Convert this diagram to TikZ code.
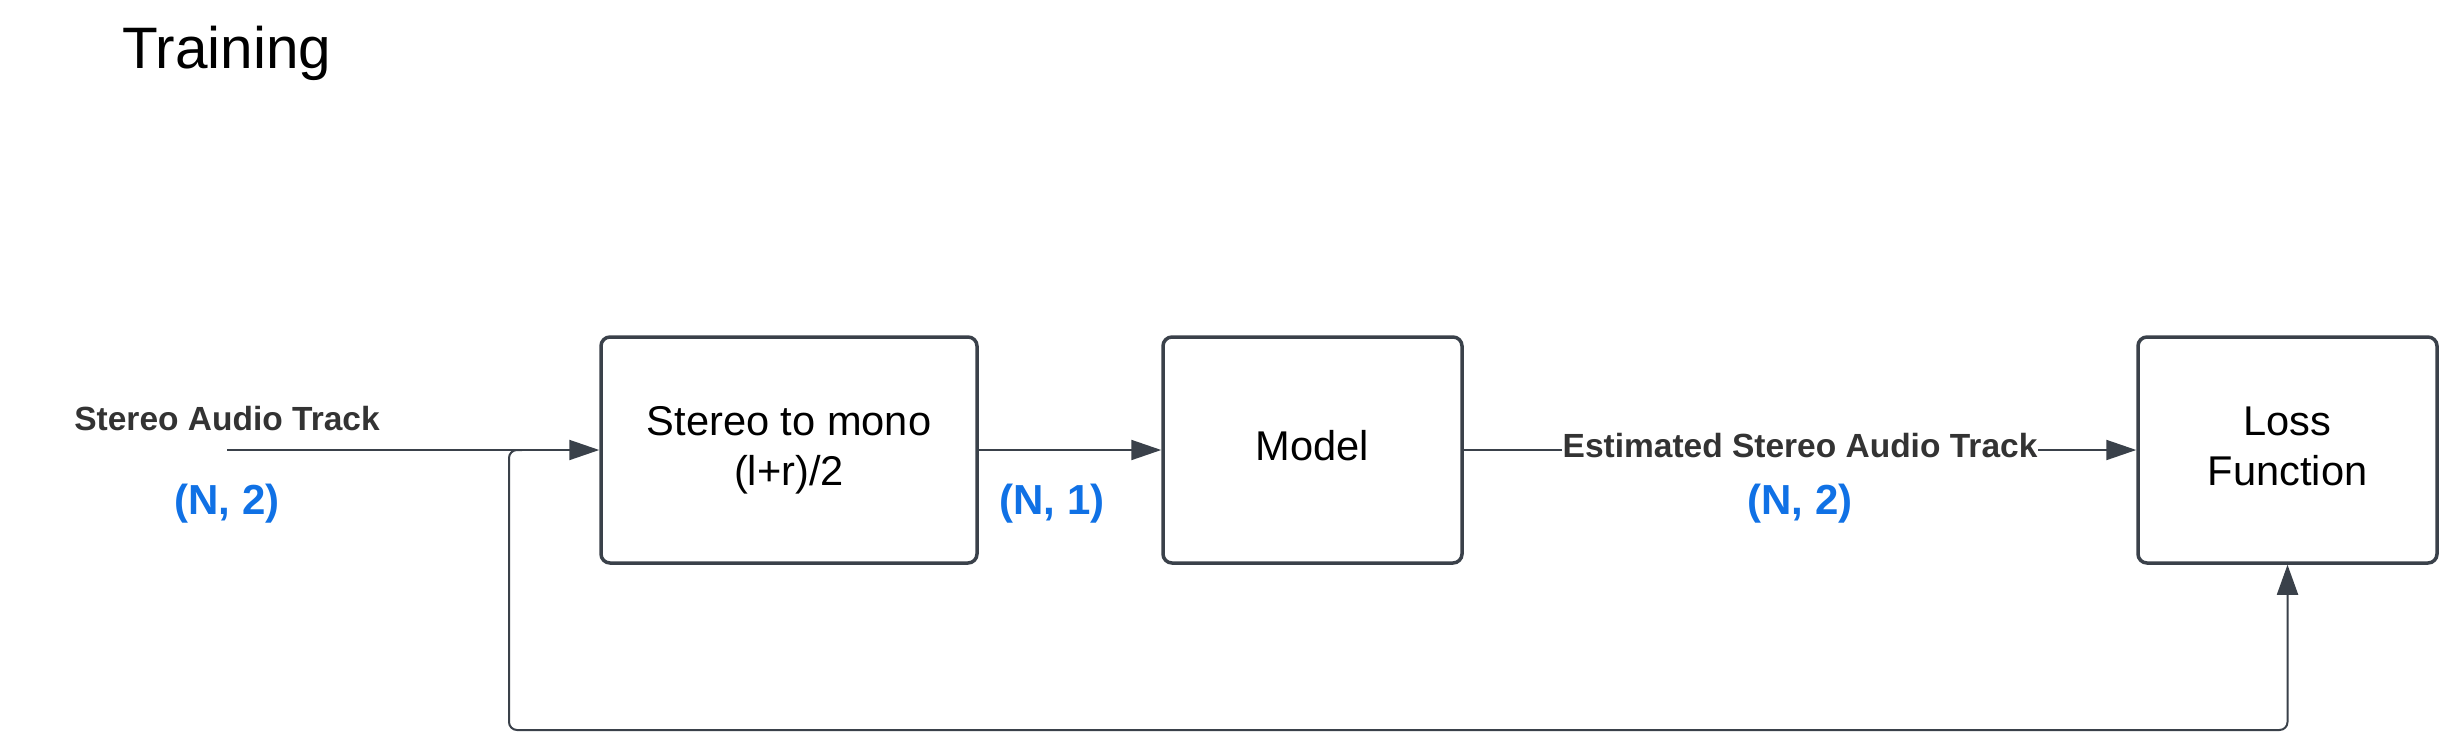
\documentclass[tikz,border=0pt]{standalone}
\usepackage{fontspec}
\setmainfont{Liberation Sans}
\usetikzlibrary{arrows.meta}
\definecolor{strokegray}{HTML}{3A414A}
\definecolor{labelgray}{HTML}{333333}
\definecolor{shapeblue}{HTML}{1071E5}
\begin{document}
\begin{tikzpicture}[x=1pt,y=-1pt,
  blockbox/.style={draw=strokegray, line width=3.5pt, rounded corners=9pt,
    minimum height=226pt, inner sep=0pt, align=center, text=black,
    font=\fontsize{41.6}{50}\selectfont},
  flow/.style={draw=strokegray, line width=2pt,
    -{Triangle[length=30pt,width=20pt]}},
  edgelabel/.style={text=labelgray, inner sep=0pt,
    font=\fontsize{33.5}{40}\selectfont\bfseries},
  shapelabel/.style={text=shapeblue, inner sep=0pt, anchor=base,
    font=\fontsize{42}{50}\selectfont\bfseries},
  titletext/.style={inner sep=0pt, anchor=base west,
    font=\fontsize{58.5}{70}\selectfont}
]
\useasboundingbox (0,0) rectangle (2439,731);

\node[titletext] (title) at (122,68) {Training};

\node[blockbox, minimum width=376pt] (s2m) at (789,450)
  {\strut Stereo to mono\\\strut (l+r)/2};
\node[blockbox, minimum width=299pt] (model) at (1312.5,450)
  {\strut Model};
\node[blockbox, minimum width=299pt] (loss) at (2287.5,450)
  {\strut Loss\\\strut Function};

\coordinate (in) at (227,450);
\node[edgelabel, anchor=base] (inlabel) at (227,430) {Stereo Audio Track};
\node[shapelabel] (shapein) at (227,514) {(N, 2)};
\node[shapelabel] (shapemono) at (1052,514) {(N, 1)};
\node[shapelabel] (shapeest) at (1800,514) {(N, 2)};

\draw[flow] (in) -- (s2m.west);
\draw[flow] (s2m.east) -- (model.west);
\draw[flow] (model.east) -- (loss.west)
  node[edgelabel, midway, anchor=base, yshift=-7pt, fill=white,
       inner xsep=0.5pt, inner ysep=3pt] (estlabel) {Estimated Stereo Audio Track};

\coordinate (fb0) at (522,450);
\coordinate (fb1) at (509,730);
\draw[draw=strokegray, line width=2pt, rounded corners=8pt,
      -{Triangle[length=30pt,width=21pt]}]
  (fb0) -| (fb1) -| (loss.south);
\end{tikzpicture}
\end{document}
